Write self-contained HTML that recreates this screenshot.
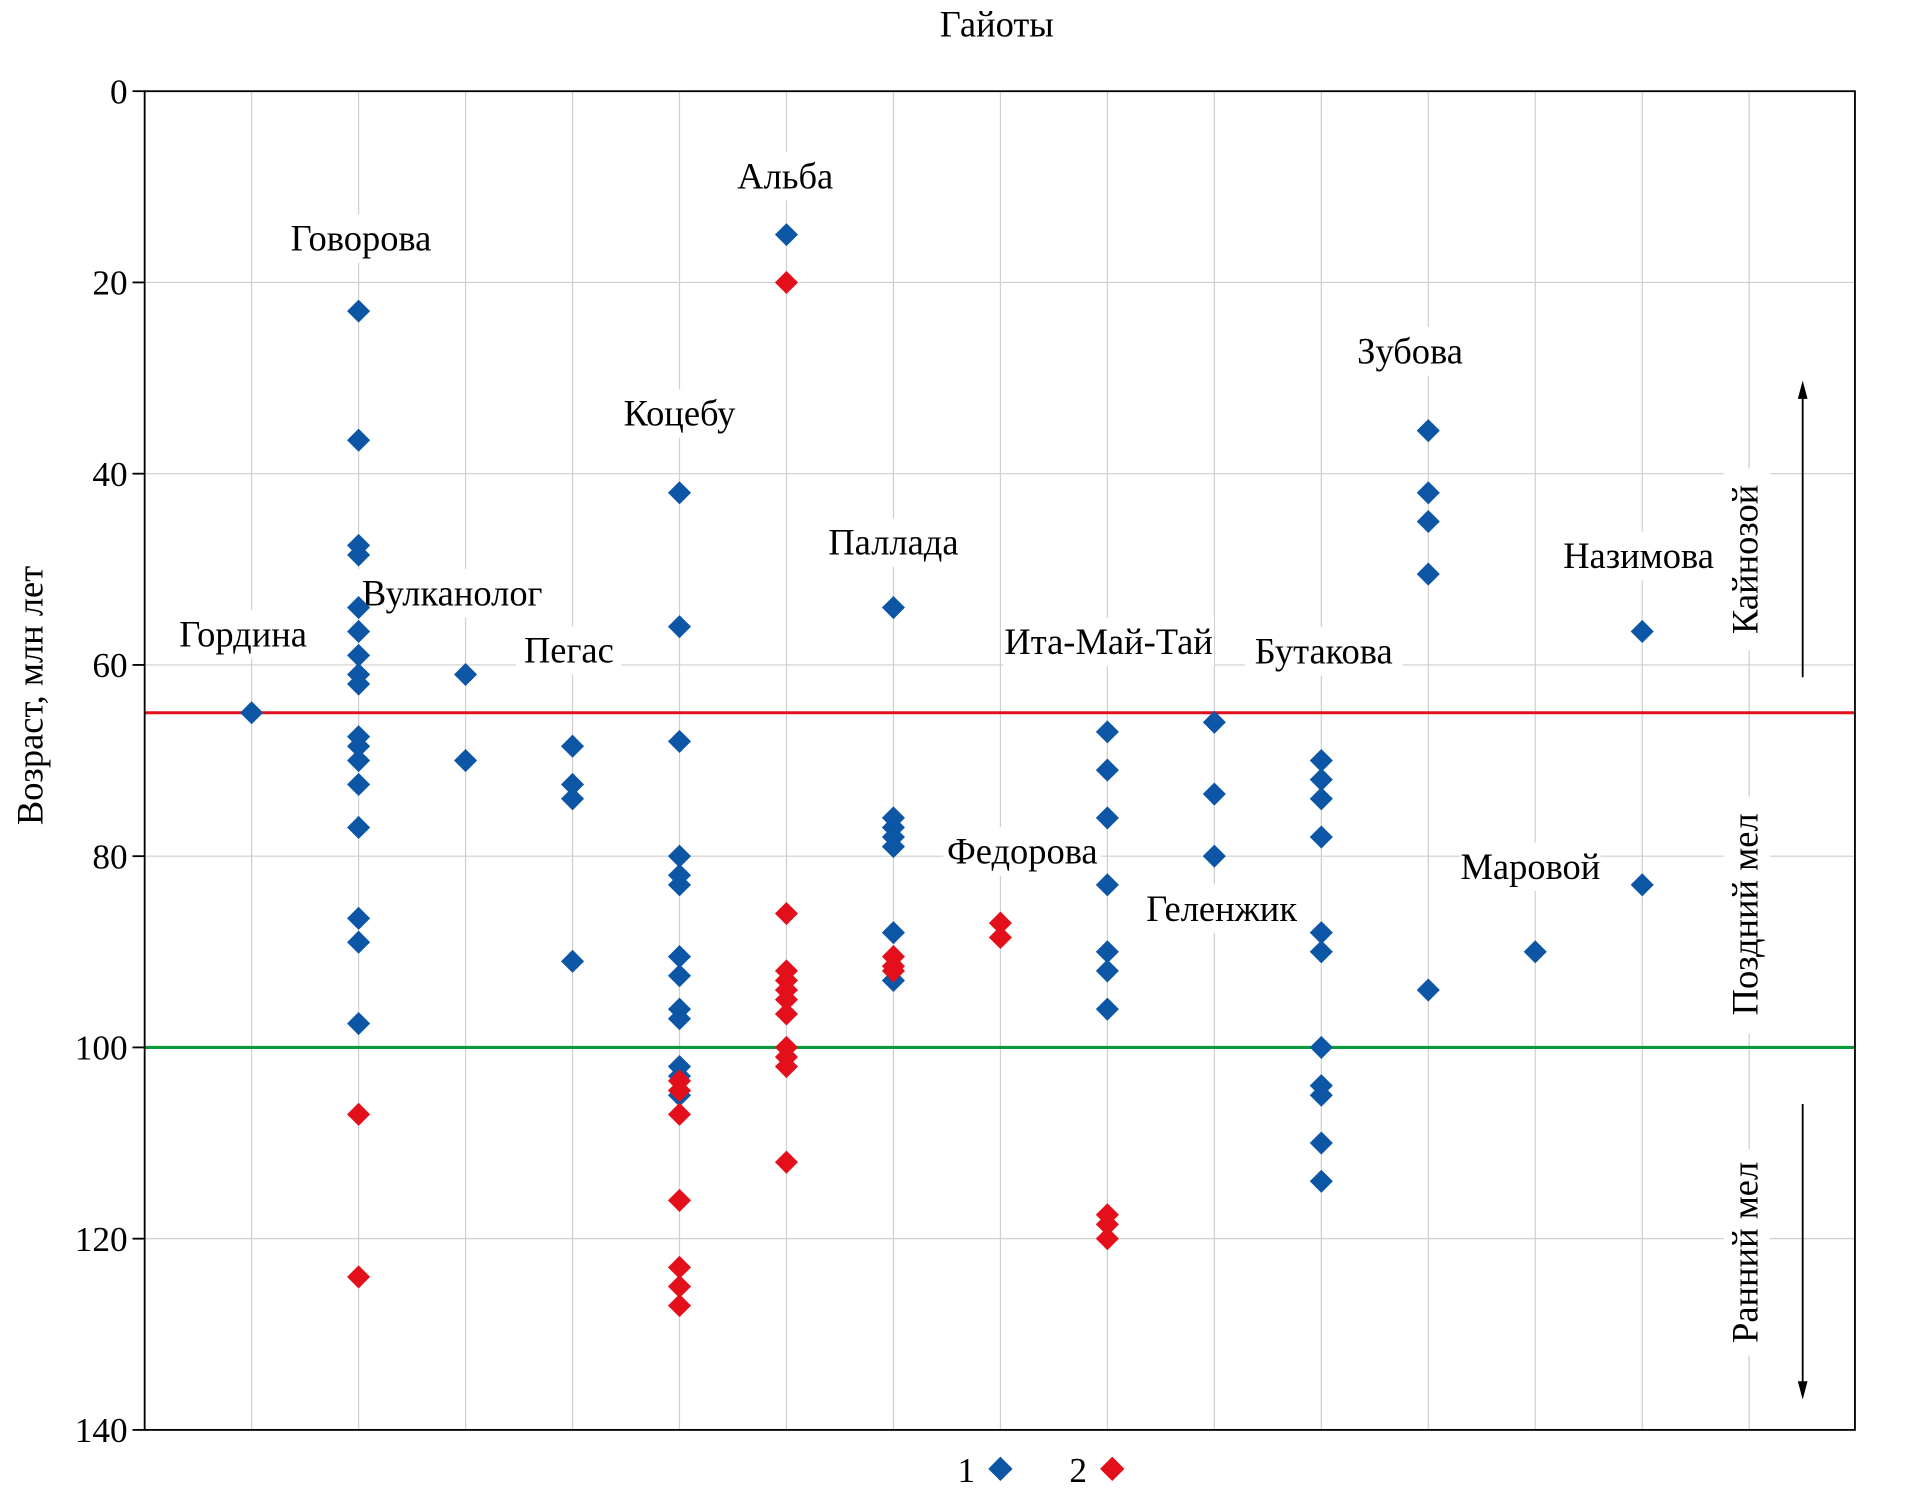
<!DOCTYPE html>
<html><head><meta charset="utf-8"><style>
html,body{margin:0;padding:0;background:#fff}
svg{display:block;font-family:"Liberation Serif","DejaVu Serif",serif}
</style></head><body>
<svg id="chart" width="1906" height="1498" viewBox="0 0 1568 1232" preserveAspectRatio="none" xmlns="http://www.w3.org/2000/svg">
<g id="grid"></g>
<g id="lines"></g>
<g id="labels"></g>
<g id="marks"></g>
<g id="axes"></g>
<text x="820" y="30" text-anchor="middle" font-size="30">Гайоты</text>
<text transform="translate(35,572) rotate(-90)" text-anchor="middle" font-size="30">Возраст, млн лет</text>
<g>
<line x1="1483" y1="557" x2="1483" y2="322" stroke="#000" stroke-width="1.5"/>
<polygon points="1483,313 1479,328 1487,328" fill="#000"/>
<line x1="1483" y1="908" x2="1483" y2="1142" stroke="#000" stroke-width="1.5"/>
<polygon points="1483,1151 1479,1136 1487,1136" fill="#000"/>
<rect x="1418" y="385" width="38" height="150" fill="#fff"/>
<text transform="translate(1446,460) rotate(-90)" text-anchor="middle" font-size="30">Кайнозой</text>
<rect x="1418" y="655" width="38" height="195" fill="#fff"/>
<text transform="translate(1446,752) rotate(-90)" text-anchor="middle" font-size="30">Поздний мел</text>
<rect x="1418" y="945" width="38" height="170" fill="#fff"/>
<text transform="translate(1446,1030) rotate(-90)" text-anchor="middle" font-size="30">Ранний мел</text>
</g>
<g>
<text x="795" y="1219" text-anchor="middle" font-size="29">1</text>
<polygon points="823,1198 833,1208 823,1218 813,1208" fill="#0d56a6"/>
<text x="887" y="1219" text-anchor="middle" font-size="29">2</text>
<polygon points="915,1198 925,1208 915,1218 905,1208" fill="#e3101b"/>
</g>
<script>
const categories = ["Гордина","Говорова","Вулканолог","Пегас","Коцебу","Альба","Паллада","Федорова","Ита-Май-Тай","Геленжик","Бутакова","Зубова","Маровой","Назимова"];
const series1 = [
 [65],
 [23,36.5,47.5,48.5,54,56.5,59,61,62,67.5,68.5,70,72.5,77,86.5,89,97.5],
 [61,70],
 [68.5,72.5,74,91],
 [42,56,68,80,82,83,90.5,92.5,96,97,102,103,105],
 [15],
 [54,76,77,78,79,88,93],
 [],
 [67,71,76,83,90,92,96],
 [66,73.5,80],
 [70,72,74,78,88,90,100,104,105,110,114],
 [35.5,42,45,50.5,94],
 [90],
 [56.5,83]
];
const series2 = [
 [],[107,124],[],[],
 [103.5,104.5,107,116,123,125,127],
 [20,86,92,93,94,95,96.5,100,101,102,112],
 [90.5,91.5,92],
 [87,88.5],
 [117.5,118.5,120],
 [],[],[],[],[]
];
const yTicks = [0,20,40,60,80,100,120,140];
const boundaries = [65,100];
const labelAges = [56.8,15.4,52.5,58.5,33.7,8.9,47.2,79.5,57.6,85.5,58.6,27.2,81.1,48.6];
const labelShift = [-7,2,-11,-3,0,-1,0,18,1,6,2,-15,-4,-3];

const NS="http://www.w3.org/2000/svg";
const L=119,R=1526,T=75,B=1176;
const y=v=>T+(v/140)*(B-T);
const x=i=>L+88*(i+1);
function mk(p,tag,a){const e=document.createElementNS(NS,tag);for(const k in a)e.setAttribute(k,a[k]);p.appendChild(e);return e;}
const grid=document.getElementById('grid'),lines=document.getElementById('lines'),labels=document.getElementById('labels'),marks=document.getElementById('marks'),axes=document.getElementById('axes');
for(let i=0;i<15;i++){const g=mk(grid,'line',{x1:x(i),x2:x(i),y1:T,y2:B,stroke:'#cfcfcf','stroke-width':1});

}
yTicks.forEach(t=>{const g=mk(grid,'line',{x1:L,x2:R,y1:y(t),y2:y(t),stroke:'#cfcfcf','stroke-width':1});


const tk=mk(axes,'line',{x1:L-10,x2:L,y1:y(t),y2:y(t),stroke:'#000','stroke-width':1.5});


const tl=mk(axes,'text',{x:L-14,y:y(t)+10,'text-anchor':'end','font-size':29});tl.textContent=t;

});
const fr=mk(axes,'rect',{x:L,y:T,width:R-L,height:B-T,fill:'none',stroke:'#000','stroke-width':1.5});


boundaries.forEach((b,j)=>{const l=mk(lines,'line',{x1:L,x2:R,y1:y(b),y2:y(b),stroke:j?'#0a9a3a':'#e3101b','stroke-width':2.5});

});
categories.forEach((c,i)=>{const cx=x(i)+labelShift[i],cy=y(labelAges[i]);
const w=c.length*14.5+14;
const bg=mk(labels,'rect',{x:cx-w/2,y:cy-20,width:w,height:40,fill:'#fff'});


const t=mk(labels,'text',{x:cx,y:cy+10,'text-anchor':'middle','font-size':30});t.textContent=c;

});
function dia(i,v,col,name){const cx=x(i),cy=y(v),s=9.5;
const p=mk(marks,'polygon',{points:`${cx},${cy-s} ${cx+s},${cy} ${cx},${cy+s} ${cx-s},${cy}`,fill:col});

}
series1.forEach((a,i)=>a.forEach(v=>dia(i,v,'#0d56a6','point-series-1')));
series2.forEach((a,i)=>a.forEach(v=>dia(i,v,'#e3101b','point-series-2')));
</script>
</svg>
</body></html>
